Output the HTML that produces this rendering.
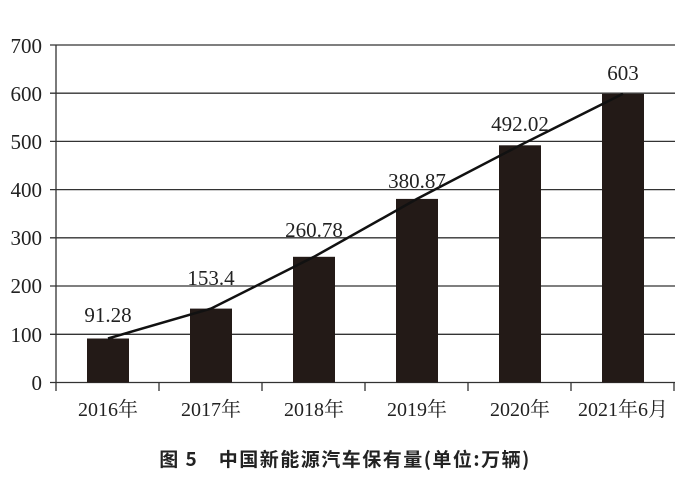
<!DOCTYPE html>
<html><head><meta charset="utf-8"><style>
body{margin:0;background:#fff;}
svg{display:block}
</style></head><body>
<svg width="694" height="487" xmlns="http://www.w3.org/2000/svg">
<g stroke="#333" stroke-width="1.3">
<line x1="50" y1="45" x2="675" y2="45"/>
<line x1="50" y1="93.2" x2="675" y2="93.2"/>
<line x1="50" y1="141.4" x2="675" y2="141.4"/>
<line x1="50" y1="189.6" x2="675" y2="189.6"/>
<line x1="50" y1="237.8" x2="675" y2="237.8"/>
<line x1="50" y1="286" x2="675" y2="286"/>
<line x1="50" y1="334.3" x2="675" y2="334.3"/>
<line x1="50" y1="382.5" x2="675" y2="382.5"/>
<line x1="56" y1="45" x2="56" y2="391"/>
<line x1="159" y1="382.5" x2="159" y2="391"/>
<line x1="262" y1="382.5" x2="262" y2="391"/>
<line x1="365" y1="382.5" x2="365" y2="391"/>
<line x1="468" y1="382.5" x2="468" y2="391"/>
<line x1="571" y1="382.5" x2="571" y2="391"/>
<line x1="674" y1="382.5" x2="674" y2="391"/>
</g>
<g fill="#231a17">
<rect x="87" y="338.5" width="42" height="44"/>
<rect x="190" y="308.6" width="42" height="73.9"/>
<rect x="293" y="256.8" width="42" height="125.7"/>
<rect x="396" y="198.9" width="42" height="183.6"/>
<rect x="499" y="145.3" width="42" height="237.2"/>
<rect x="602" y="93.8" width="42" height="288.7"/>
</g>
<polyline points="108,338.5 211,308.6 314,256.8 417,198.9 520,145.3 623,93.8" fill="none" stroke="#111" stroke-width="2.5"/>
<g font-family="Liberation Serif, serif" font-size="21" fill="#222" text-anchor="end">
<text x="42" y="53">700</text><text x="42" y="101">600</text><text x="42" y="149">500</text>
<text x="42" y="197">400</text><text x="42" y="245">300</text><text x="42" y="293">200</text>
<text x="42" y="342">100</text><text x="42" y="390">0</text>
</g>
<g font-family="Liberation Serif, 'Noto Serif CJK SC', serif" font-size="21" fill="#222" text-anchor="middle">
<text x="108" y="322">91.28</text><text x="211" y="285">153.4</text><text x="314" y="237">260.78</text>
<text x="417" y="188">380.87</text><text x="520" y="131">492.02</text><text x="623" y="80">603</text>
</g>
<g font-family="Liberation Serif, 'Noto Serif CJK SC', serif" font-size="20" fill="#222" text-anchor="middle">
<text x="108" y="416">2016年</text><text x="211" y="416">2017年</text><text x="314" y="416">2018年</text>
<text x="417" y="416">2019年</text><text x="520" y="416">2020年</text><text x="623" y="416">2021年6月</text>
</g>
<text x="345" y="466" text-anchor="middle" font-family="'Noto Sans CJK SC', sans-serif" font-weight="bold" font-size="19" letter-spacing="1.5" fill="#222">图 5　中国新能源汽车保有量(单位:万辆)</text>
</svg>
</body></html>
